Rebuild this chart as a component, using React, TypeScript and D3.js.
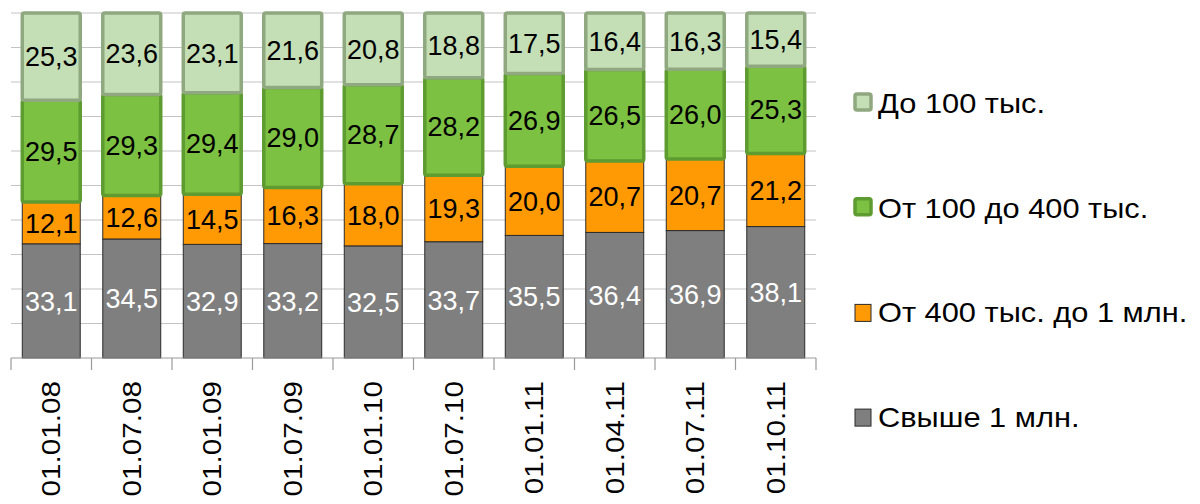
import { useEffect, useRef } from 'react'
import * as d3 from 'd3'

const categories = ['01.01.08', '01.07.08', '01.01.09', '01.07.09', '01.01.10', '01.07.10', '01.01.11', '01.04.11', '01.07.11', '01.10.11']
const over1m = [33.1, 34.5, 32.9, 33.2, 32.5, 33.7, 35.5, 36.4, 36.9, 38.1]
const from400to1m = [12.1, 12.6, 14.5, 16.3, 18.0, 19.3, 20.0, 20.7, 20.7, 21.2]
const from100to400 = [29.5, 29.3, 29.4, 29.0, 28.7, 28.2, 26.9, 26.5, 26.0, 25.3]
const upTo100 = [25.3, 23.6, 23.1, 21.6, 20.8, 18.8, 17.5, 16.4, 16.3, 15.4]

const seriesNames = ['Свыше 1 млн.', 'От 400 тыс. до 1 млн.', 'От 100 до 400 тыс.', 'До 100 тыс.']

const styles = [
  { fill: '#7f7f7f', stroke: '#2b2b2b', sw: 1, text: '#ffffff' },
  { fill: '#ff9a05', stroke: '#2b2b2b', sw: 1, text: '#000000' },
  { fill: '#7cc142', stroke: '#5e9b31', sw: 3.5, text: '#000000' },
  { fill: '#c4dfb6', stroke: '#8fa880', sw: 3.5, text: '#000000' },
]

const FONT = 'Arial, "Liberation Sans", sans-serif'

export default function App() {
  const svgRef = useRef<SVGSVGElement>(null)

  useEffect(() => {
    if (!svgRef.current) return
    const W = 1200, H = 504
    const left = 11, right = 816, top = 13, bottom = 358

    const rows = categories.map((c, i) => ({
      cat: c,
      s0: over1m[i],
      s1: from400to1m[i],
      s2: from100to400[i],
      s3: upTo100[i],
    }))
    const keys = ['s0', 's1', 's2', 's3']
    const stacked = d3.stack<any>().keys(keys).offset(d3.stackOffsetExpand)(rows)

    const svg = d3.select(svgRef.current)
    svg.selectAll('*').remove()
    svg.attr('width', W).attr('height', H)

    const x = d3.scaleBand().domain(categories).range([left, right]).paddingInner(0.28).paddingOuter(0.14)
    const y = d3.scaleLinear().domain([0, 1]).range([bottom, top])

    // gridlines
    svg.append('g')
      .selectAll('line')
      .data(y.ticks(10).filter(t => t > 0))
      .join('line')
      .attr('x1', left)
      .attr('x2', right)
      .attr('y1', d => y(d))
      .attr('y2', d => y(d))
      .attr('stroke', '#c4c4c4')
      .attr('stroke-width', 1.2)

    // bars
    stacked.forEach((layer, li) => {
      const st = styles[li]
      svg.append('g')
        .selectAll('rect')
        .data(layer)
        .join('rect')
        .attr('x', d => x(d.data.cat)!)
        .attr('width', x.bandwidth())
        .attr('y', d => y(d[1]))
        .attr('height', d => y(d[0]) - y(d[1]))
        .attr('fill', st.fill)
        .attr('stroke', st.stroke)
        .attr('stroke-width', st.sw)
        .attr('rx', li >= 2 ? 2 : 0)
    })

    // value labels
    stacked.forEach((layer, li) => {
      const st = styles[li]
      svg.append('g')
        .selectAll('text')
        .data(layer)
        .join('text')
        .attr('x', d => x(d.data.cat)! + x.bandwidth() / 2)
        .attr('y', d => (y(d[0]) + y(d[1])) / 2)
        .attr('dy', '0.36em')
        .attr('text-anchor', 'middle')
        .attr('font-family', FONT)
        .attr('font-size', 27)
        .attr('fill', st.text)
        .text(d => (d.data[keys[li]] as number).toFixed(1).replace('.', ','))
    })

    // x axis
    const axis = svg.append('g')
    axis.append('line')
      .attr('x1', left).attr('x2', right)
      .attr('y1', bottom).attr('y2', bottom)
      .attr('stroke', '#9a9a9a').attr('stroke-width', 1.2)
    const bounds = categories.map(c => x(c)! - x.step() * x.paddingInner() / 2)
    bounds.push(right)
    bounds[0] = left
    axis.selectAll('.tick')
      .data(bounds)
      .join('line')
      .attr('class', 'tick')
      .attr('x1', d => d).attr('x2', d => d)
      .attr('y1', bottom).attr('y2', bottom + 12)
      .attr('stroke', '#9a9a9a').attr('stroke-width', 1.2)
    axis.selectAll('.lbl')
      .data(categories)
      .join('text')
      .attr('class', 'lbl')
      .attr('transform', d => `translate(${x(d)! + x.bandwidth() / 2 + 9},381) rotate(-90) scale(1.12,1)`)
      .attr('text-anchor', 'end')
      .attr('font-family', FONT)
      .attr('font-size', 26.5)
      .attr('fill', '#000')
      .text(d => d)

    // legend
    const legendOrder = [3, 2, 1, 0]
    const lg = svg.append('g')
    legendOrder.forEach((si, i) => {
      const st = styles[si]
      const base = 113 + i * 104.7
      const big = si >= 2
      lg.append('rect')
        .attr('x', big ? 855 : 855)
        .attr('y', base - (big ? 19 : 18))
        .attr('width', big ? 16 : 16)
        .attr('height', big ? 16 : 17)
        .attr('fill', st.fill)
        .attr('stroke', st.stroke)
        .attr('stroke-width', big ? 3.5 : 1)
        .attr('rx', big ? 2 : 0)
      lg.append('text')
        .attr('transform', `translate(878,${base}) scale(1.12,1)`)
        .attr('font-family', FONT)
        .attr('font-size', 27.5)
        .attr('fill', '#000')
        .text(seriesNames[si])
    })
  }, [])

  return (
    <svg ref={svgRef} style={{ position: 'absolute', left: 0, top: 0, background: '#fff' }}></svg>
  )
}
